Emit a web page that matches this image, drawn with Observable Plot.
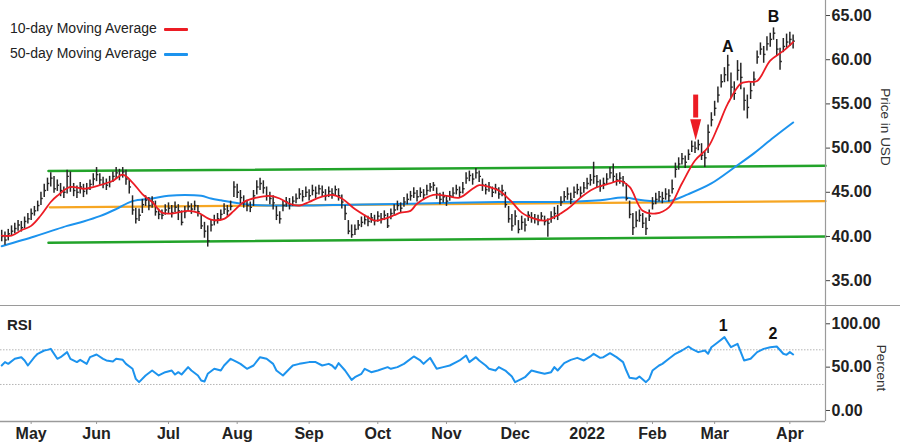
<!DOCTYPE html>
<html><head><meta charset="utf-8">
<script src="https://cdn.jsdelivr.net/npm/d3@7"></script>
<script src="https://cdn.jsdelivr.net/npm/@observablehq/plot@0.6"></script>
<style>
body{margin:0;background:#fff;}
#wrap{position:relative;width:900px;height:444px;overflow:hidden;font-family:"Liberation Sans",Arial,sans-serif;background:#fff;}
#price,#rsi{position:absolute;left:0;}
#price{top:0}
#rsi{top:305px}
.sep{position:absolute;left:0;top:305px;width:900px;border-top:1.5px solid #9a9a9a;}
.leg{position:absolute;left:10px;font-size:14px;color:#222;line-height:16px;white-space:nowrap;}
.leg span{display:inline-block;width:24px;height:3px;vertical-align:middle;margin-left:7px;border-radius:1px;}
.ylab{position:absolute;font-size:13.5px;color:#333;white-space:nowrap;transform:translate(-50%,-50%) rotate(90deg);}
.panel{position:absolute;font-size:15px;font-weight:bold;color:#222;}
</style></head>
<body>
<div id="wrap">
  <div id="price"></div>
  <div id="rsi"></div>
  <div class="sep"></div>
</div>
<script>
// ---- month axis (trading-day index, day 0 = 20 Apr 2021) ----
const monthIdx = [9, 29, 51, 72, 94, 115, 136, 157, 179, 199, 218, 241];
const monthLabels = ["May","Jun","Jul","Aug","Sep","Oct","Nov","Dec","2022","Feb","Mar","Apr"];

// ---- daily price bars ----
const close = [
40.0,39.6,40.3,40.6,40.9,41.3,41.0,41.7,42.0,42.6,
42.9,43.5,44.3,45.2,46.0,46.6,45.4,45.8,45.2,45.0,
46.8,45.6,45.2,45.0,45.6,45.1,45.4,45.9,46.5,47.0,
46.4,46.0,45.8,46.2,46.8,47.2,46.9,47.3,46.5,45.6,
43.0,42.0,42.4,43.6,44.1,43.5,43.9,42.8,42.5,42.4,
43.0,43.2,42.7,43.3,42.9,41.6,42.8,43.4,43.1,43.5,
42.8,41.2,40.6,39.5,41.3,41.8,42.0,42.5,43.1,42.9,
43.4,45.6,45.0,44.4,43.9,43.5,43.3,44.6,45.6,46.0,
45.5,44.6,44.3,43.8,42.4,42.0,43.5,43.9,43.6,44.0,
44.3,44.8,44.5,45.0,44.6,45.2,44.9,45.4,45.0,44.6,
45.1,44.8,45.3,44.6,43.9,42.6,40.6,40.2,40.8,41.3,
41.6,41.9,41.7,42.1,41.8,42.3,42.0,42.4,41.2,42.6,
43.0,43.5,43.2,43.9,44.2,44.6,44.9,44.5,45.0,44.7,
45.2,45.6,45.8,44.8,44.2,44.5,44.0,44.6,44.9,45.3,
45.0,45.4,46.6,46.9,46.5,47.2,46.8,45.8,45.3,45.6,
45.0,45.4,44.8,45.2,43.6,42.0,41.2,42.3,40.8,41.6,
41.3,42.4,42.1,42.0,41.8,42.3,41.7,41.5,42.2,42.6,
42.4,43.9,44.5,44.8,44.2,45.0,45.3,44.9,45.5,46.0,
46.4,46.8,46.2,45.7,46.0,46.5,47.2,46.8,46.4,46.6,
46.2,44.3,42.5,41.0,41.8,42.4,41.5,40.9,42.3,43.7,
44.2,44.5,44.3,44.8,44.6,45.4,47.6,48.2,48.8,48.4,
49.3,50.2,50.0,50.4,49.2,48.9,51.8,53.2,54.5,56.0,
57.5,58.3,59.4,56.9,56.2,58.8,58.0,55.4,54.6,56.5,
57.8,60.3,61.2,60.6,61.8,62.3,63.0,61.2,59.8,61.5,
62.0,62.3,62.1];
const high = [
40.7,40.5,40.8,41.2,41.5,41.8,41.7,42.2,42.6,43.1,
43.4,44.0,45.0,45.9,46.6,47.2,46.8,46.4,46.0,45.6,
47.5,47.3,46.0,45.7,46.1,45.9,46.0,46.4,47.1,47.8,
47.1,46.7,46.5,46.8,47.3,47.8,47.6,47.8,47.5,46.4,
44.6,43.2,43.1,44.2,44.6,44.4,44.5,44.0,43.1,43.0,
43.6,43.8,43.5,43.9,43.6,42.9,43.4,43.9,43.7,44.0,
43.5,42.4,41.6,41.2,41.9,42.4,42.6,43.0,43.7,43.5,
44.0,46.2,45.9,45.2,44.6,44.1,43.9,45.2,46.3,46.6,
46.3,45.6,45.0,44.6,43.4,42.8,44.0,44.4,44.3,44.5,
44.8,45.4,45.2,45.6,45.3,45.8,45.6,45.8,45.7,45.3,
45.6,45.4,45.7,45.4,44.7,43.5,41.8,41.3,41.3,41.8,
42.2,42.4,42.3,42.6,42.4,42.8,42.6,42.9,42.6,43.1,
43.6,44.0,43.8,44.4,44.8,45.1,45.5,45.2,45.5,45.3,
45.8,46.0,46.1,45.5,44.9,45.0,44.6,45.1,45.5,45.8,
45.6,46.1,47.2,47.4,47.1,47.7,47.4,46.5,45.9,46.1,
45.6,45.9,45.5,45.8,45.0,43.4,42.5,42.9,41.8,42.3,
42.0,42.8,42.7,42.5,42.4,42.7,42.3,42.0,42.8,43.3,
43.5,44.5,45.1,45.5,44.9,45.6,45.9,45.6,46.1,46.6,
47.0,48.4,46.9,46.4,46.6,47.1,47.8,48.2,47.1,47.2,
46.8,46.0,44.0,42.6,42.8,43.0,42.6,42.1,43.0,44.4,
44.9,45.1,45.0,45.4,45.3,46.4,48.3,48.9,49.4,49.1,
49.8,50.8,50.7,50.9,50.5,49.6,52.6,54.0,55.3,56.9,
58.3,59.1,60.5,58.5,57.5,59.9,59.6,56.8,56.0,57.4,
58.6,61.0,61.9,61.5,62.6,63.0,63.6,62.3,61.3,62.4,
62.9,63.1,62.8];
const low = [
39.4,39.0,39.5,40.0,40.3,40.6,40.5,40.9,41.4,41.8,
42.3,42.8,43.5,44.4,45.1,45.6,44.9,45.1,44.5,44.3,
44.8,45.0,44.5,44.3,44.8,44.4,44.7,45.2,45.7,46.2,
45.8,45.4,45.2,45.5,46.1,46.5,46.3,46.6,45.8,44.8,
42.4,41.4,41.7,42.6,43.4,42.9,43.2,42.3,41.9,41.9,
42.4,42.6,42.1,42.7,41.8,41.2,42.0,42.8,42.5,42.9,
42.2,40.8,39.8,38.8,40.5,41.2,41.4,41.9,42.5,42.3,
42.9,44.4,44.3,43.7,43.2,42.8,42.7,43.4,44.7,45.2,
44.8,44.0,43.6,43.0,41.8,41.4,42.8,43.3,43.0,43.4,
43.7,44.2,43.9,44.4,44.0,44.6,44.3,44.7,44.4,44.0,
44.4,44.2,44.6,44.0,43.1,41.8,40.2,39.8,40.1,40.7,
41.0,41.3,41.1,41.5,41.2,41.6,41.4,41.8,40.9,41.9,
42.4,42.9,42.6,43.3,43.6,44.0,44.3,43.9,44.4,44.1,
44.6,45.0,45.1,44.2,43.6,43.8,43.4,44.0,44.3,44.7,
44.4,44.8,45.9,46.2,45.8,46.5,46.1,45.1,44.7,45.0,
44.4,44.8,44.2,44.5,43.2,41.5,40.6,41.2,40.3,40.7,
40.5,41.7,41.5,41.4,41.2,41.7,41.2,39.9,41.5,41.9,
41.8,43.4,43.9,44.1,43.6,44.3,44.7,44.3,44.9,45.3,
45.7,45.9,45.5,45.0,45.3,45.8,46.5,46.1,45.7,45.9,
45.6,44.0,42.0,40.1,41.0,41.6,40.9,40.1,41.7,43.0,
43.6,43.9,43.7,44.1,43.9,44.8,46.6,47.5,48.1,47.7,
48.6,49.5,49.4,49.7,48.6,47.8,49.4,52.4,53.6,55.1,
56.8,57.4,57.5,55.6,55.4,57.6,56.6,54.2,53.3,55.5,
57.0,59.5,60.5,59.6,61.0,61.4,62.2,60.4,58.8,60.8,
61.3,61.5,61.2];

// ---- moving averages ----
const ma10Day = [0,3,6,9,12,15,17,21,25,30,34,37,40,43,46,49,52,57,60,64,68,71,74,78,82,85,88,91,94,97,101,104,108,111,114,117,120,122,125,127,132,136,140,144,146,149,152,156,159,163,166,169,173,177,181,183,186,189,192,196,200,204,208,212,216,219,222,226,228,231,235,239,242];
const ma10 = [40.1,40.1,40.7,41.2,42.4,43.9,44.6,45.6,45.4,45.8,46.3,47.0,46.1,44.8,43.9,42.7,42.6,42.9,42.7,41.9,42.0,42.9,43.9,44.4,44.6,44.3,43.7,43.5,43.9,44.4,44.7,44.3,43.1,42.4,41.8,42.0,42.4,42.7,42.9,43.7,44.7,44.6,44.4,45.4,45.8,45.6,45.2,43.9,42.7,42.0,41.8,42.2,43.1,44.4,45.4,45.7,46.0,46.3,45.6,42.9,42.6,43.3,46.0,48.6,50.1,52.4,55.0,57.3,57.5,57.6,59.9,61.0,62.0];
const ma50Day = [0,10,15,20,25,30,35,40,46,51,56,61,64,67,76,91,107,125,152,170,183,190,196,204,210,217,224,230,236,242];
const ma50 = [38.9,40.0,40.6,41.2,41.7,42.3,43.1,44.0,44.3,44.6,44.7,44.6,44.3,44.1,43.6,43.5,43.6,43.7,43.9,43.9,44.1,44.4,44.1,44.0,44.8,46.0,47.8,49.4,51.2,52.9];

// ---- channel and mid line ----
const lineDays = [14.3, 251.9];
const channelTop = [47.4, 48.0];
const channelBottom = [39.3, 40.0];
const midDays = [14.7, 251.9];
const midLine = [43.3, 44.0];

// ---- annotations ----
const noteText = ["A", "B"];
const noteDay = [222, 236];
const notePrice = [61.4, 64.8];
const arrowDay = [212.2];
const arrowTop = [56.0];
const arrowBase = [53.4];
const arrowTip = [50.9];

// ---- RSI ----
const rsiDay = [0,1,2,4,6,7,8,10,11,13,14,15,17,18,20,21,23,24,26,27,29,31,32,34,35,37,38,40,41,42,44,46,48,50,52,53,54,55,57,58,60,61,62,63,65,67,68,70,72,73,75,77,79,81,83,84,86,88,89,91,92,94,96,98,100,101,102,103,105,107,108,110,111,113,115,118,119,121,123,126,128,129,131,133,135,137,139,140,142,143,145,146,148,149,151,152,154,156,157,159,160,162,164,166,168,169,170,172,174,176,178,180,181,183,184,186,188,190,191,192,194,195,197,198,199,201,202,204,206,208,210,211,213,215,216,217,219,221,222,223,225,227,229,231,233,235,237,239,240,241,242];
const rsiVal = [51.9,55.8,53.8,59.6,61.5,57.7,51.9,61.5,65.4,69.2,69.9,71.1,59.6,61.5,67.3,59.6,55.8,58.4,53.8,61.5,64.6,59.6,57.7,56.5,59.6,58.4,53.8,48.1,36.5,32.7,40.4,46.1,40.4,44.2,46.1,41.5,44.2,41.5,50.0,46.1,40.4,34.6,33.4,42.3,48.1,46.1,51.9,59.6,55.8,53.8,48.1,51.9,61.5,59.6,53.8,46.1,40.4,48.1,51.9,53.8,54.6,55.8,55.8,51.9,53.8,51.9,48.1,54.6,46.1,35.3,38.4,42.3,48.1,44.2,46.1,50.0,48.1,50.0,53.8,62.3,57.7,53.8,60.7,48.1,50.0,51.9,55.8,57.7,63.4,55.8,61.5,57.7,51.9,48.1,46.1,50.0,46.1,39.2,32.7,36.5,38.4,46.1,44.2,42.3,44.2,50.0,46.1,54.6,58.4,60.7,57.7,62.3,65.4,60.7,61.5,66.1,61.5,55.8,46.1,37.7,36.5,39.2,32.7,36.5,46.1,51.9,53.8,59.6,65.4,69.2,73.8,71.1,67.3,69.2,65.4,73.0,78.8,84.6,78.8,73.0,76.9,57.7,59.6,67.3,71.1,73.0,73.8,65.4,64.2,67.3,64.6];
const rsiBands = [30, 70];
const rsiNoteText = ["1", "2"];
const rsiNoteDay = [220.6, 235.8];
const rsiNoteVal = [98, 88.5];

// ---- axis ticks ----
const priceTicks = [35, 40, 45, 50, 55, 60, 65];
const rsiTicks = [0, 50, 100];

// ---- build ----
const xDom = [-0.37, 251.9];
const bars = close.map((c, i) => ({i, c, h: high[i], l: low[i]}));
const ma10Data = ma10Day.map((d, k) => ({d, v: ma10[k]}));
const ma50Data = ma50Day.map((d, k) => ({d, v: ma50[k]}));
const topData = lineDays.map((d, k) => ({d, v: channelTop[k]}));
const botData = lineDays.map((d, k) => ({d, v: channelBottom[k]}));
const midData = midDays.map((d, k) => ({d, v: midLine[k]}));
const notes = noteText.map((t, k) => ({t, d: noteDay[k], v: notePrice[k]}));
const arrow = arrowDay.map((d, k) => ({d, top: arrowTop[k], base: arrowBase[k], tip: arrowTip[k]}));
const rsiData = rsiDay.map((d, k) => ({d, v: rsiVal[k]}));
const rsiNotes = rsiNoteText.map((t, k) => ({t, d: rsiNoteDay[k], v: rsiNoteVal[k]}));

const RED = "#ec1c24", BLUE = "#1c93ee", GREEN = "#22a32a", ORANGE = "#f6a623", BAR = "#262626", AX = "#9a9a9a";
const headShape = {draw(ctx) { ctx.moveTo(-5.5, -21); ctx.lineTo(5.5, -21); ctx.lineTo(0, 0); ctx.closePath(); }};
const fmt2 = d => d.toFixed(2);
const font = "Liberation Sans, Arial, sans-serif";

const pricePlot = Plot.plot({
  width: 900, height: 305,
  marginLeft: 0, marginRight: 75, marginTop: 0, marginBottom: 0,
  x: {domain: xDom, axis: null},
  y: {domain: [32.19, 66.70]},
  style: {background: "transparent", color: "#222", fontFamily: font, overflow: "visible"},
  marks: [
    Plot.line(topData, {x: "d", y: "v", stroke: GREEN, strokeWidth: 2.5}),
    Plot.line(botData, {x: "d", y: "v", stroke: GREEN, strokeWidth: 2.5}),
    Plot.line(midData, {x: "d", y: "v", stroke: ORANGE, strokeWidth: 2.2}),
    Plot.line(ma50Data, {x: "d", y: "v", stroke: BLUE, strokeWidth: 2, curve: "catmull-rom"}),
    Plot.ruleX(bars, {x: "i", y1: "l", y2: "h", stroke: BAR, strokeWidth: 1.5}),
    Plot.link(bars, {x1: "i", x2: d => d.i + 0.55, y1: "c", y2: "c", stroke: BAR, strokeWidth: 1.4}),
    Plot.line(ma10Data, {x: "d", y: "v", stroke: RED, strokeWidth: 1.8, curve: "catmull-rom"}),
    Plot.ruleX(arrow, {x: "d", y1: "top", y2: "base", stroke: RED, strokeWidth: 5}),
    Plot.dot(arrow, {x: "d", y: "tip", symbol: headShape, fill: RED, stroke: "none"}),
    Plot.text(notes, {x: "d", y: "v", text: "t", fontSize: 16, fontWeight: "bold", fill: "#111"}),
    Plot.ruleX([xDom[1]], {stroke: AX, strokeWidth: 1.2}),
    Plot.axisY(priceTicks, {anchor: "right", tickFormat: fmt2, tickSize: 4, tickPadding: 2, fontSize: 16, fontWeight: "bold", label: null, stroke: "#444"})
  ]
});
document.getElementById("price").appendChild(pricePlot);

const rsiPlot = Plot.plot({
  width: 900, height: 139,
  marginLeft: 0, marginRight: 75, marginTop: 0, marginBottom: 23,
  x: {domain: xDom},
  y: {domain: [-12.7, 121.1]},
  style: {background: "transparent", color: "#222", fontFamily: font, overflow: "visible"},
  marks: [
    Plot.ruleY(rsiBands, {stroke: "#b5b5b5", strokeDasharray: "1.5,1.5"}),
    Plot.ruleY([-12.7], {stroke: AX, strokeWidth: 1.5}),
    Plot.line(rsiData, {x: "d", y: "v", stroke: BLUE, strokeWidth: 2}),
    Plot.text(rsiNotes, {x: "d", y: "v", text: "t", fontSize: 16, fontWeight: "bold", fill: "#111"}),
    Plot.ruleX([xDom[1]], {stroke: AX, strokeWidth: 1.2}),
    Plot.axisY(rsiTicks, {anchor: "right", tickFormat: fmt2, tickSize: 4, tickPadding: 2, fontSize: 16, fontWeight: "bold", label: null, stroke: "#444"}),
    Plot.axisX(monthIdx, {anchor: "bottom", tickFormat: d => monthLabels[monthIdx.indexOf(d)], tickSize: 3, tickPadding: 3, fontSize: 16, fontWeight: "bold", label: null, stroke: AX})
  ]
});
document.getElementById("rsi").appendChild(rsiPlot);

// legend and panel labels
const wrap = document.getElementById("wrap");
const legendItems = [["10-day Moving Average", RED, 20], ["50-day Moving Average", BLUE, 45]];
legendItems.forEach(([t, c, top]) => {
  const el = document.createElement("div");
  el.className = "leg"; el.style.top = top + "px";
  el.textContent = t;
  const sw = document.createElement("span"); sw.style.background = c;
  el.appendChild(sw); wrap.appendChild(el);
});
[["Price in USD", 885, 127], ["Percent", 881, 368]].forEach(([t, x, y]) => {
  const el = document.createElement("div");
  el.className = "ylab"; el.style.left = x + "px"; el.style.top = y + "px";
  el.textContent = t; wrap.appendChild(el);
});
const rsiLab = document.createElement("div");
rsiLab.className = "panel"; rsiLab.style.left = "7px"; rsiLab.style.top = "316px";
rsiLab.textContent = "RSI"; wrap.appendChild(rsiLab);
</script>
</body></html>
